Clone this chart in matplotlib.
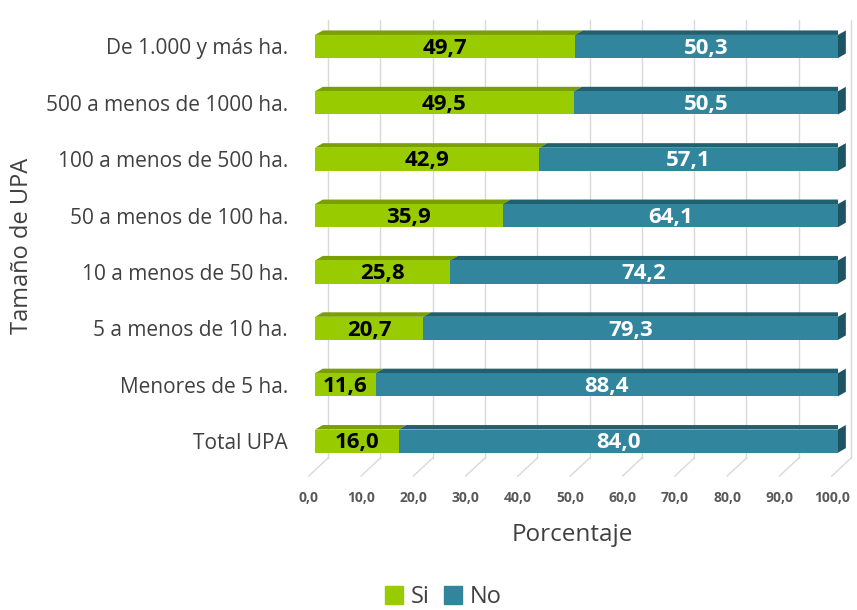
import numpy as np
import matplotlib.pyplot as plt
from matplotlib.patches import Polygon, Patch

# Data
categories = ['Total UPA', 'Menores de 5 ha.', '5 a menos de 10 ha.', '10 a menos de 50 ha.',
              '50 a menos de 100 ha.', '100 a menos de 500 ha.', '500 a menos de 1000 ha.',
              'De 1.000 y más ha.']
si_values = [16.0, 11.6, 20.7, 25.8, 35.9, 42.9, 49.5, 49.7]
no_values = [84.0, 88.4, 79.3, 74.2, 64.1, 57.1, 50.5, 50.3]
x_ticks = [0, 10, 20, 30, 40, 50, 60, 70, 80, 90, 100]

plt.rcParams['font.family'] = ['Open Sans', 'DejaVu Sans']

green, green_top = '#99CC00', '#7A9F00'
blue, blue_top, blue_side = '#31859C', '#22606F', '#1D5463'
grid_c = '#D9D9D9'
text_c = '#404040'

# 3D offsets (data units)
dx, dy = 1.5, 0.08
wall_dx = 2.5
floor_dx = -1.2
bar_h = 0.41
x_min = -1.5
y = np.arange(len(categories))

fig = plt.figure(figsize=(8.57, 6.10), dpi=100)
px_per_unit = 523 / 100
left_px = 315 + x_min * px_per_unit
ax = fig.add_axes([left_px / 857, 130 / 610, (838 - left_px) / 857, 460 / 610])
for s in ax.spines.values():
    s.set_visible(False)

# back wall grid lines + floor diagonals
for v in x_ticks:
    ax.plot([v + wall_dx, v + wall_dx], [-0.3, 7.47], color=grid_c, lw=1, zorder=0, clip_on=False)
    ax.plot([v + wall_dx, v + floor_dx], [-0.3, -0.62], color=grid_c, lw=1, zorder=0, clip_on=False)

# bars
ax.barh(y, si_values, height=bar_h, color=green, zorder=3)
ax.barh(y, no_values, left=si_values, height=bar_h, color=blue, zorder=3)

for yi, s, n in zip(y, si_values, no_values):
    top = yi + bar_h / 2
    bot = yi - bar_h / 2
    ax.add_patch(Polygon([(0, top), (s, top), (s + dx, top + dy), (dx, top + dy)],
                         closed=True, color=green_top, zorder=2, lw=0))
    ax.add_patch(Polygon([(s, top), (s + n, top), (s + n + dx, top + dy), (s + dx, top + dy)],
                         closed=True, color=blue_top, zorder=2, lw=0))
    ax.add_patch(Polygon([(s + n, bot), (s + n, top), (s + n + dx, top + dy), (s + n + dx, bot + dy)],
                         closed=True, color=blue_side, zorder=2, lw=0, clip_on=False))
    ax.text(s / 2, yi - 0.03, f'{s:.1f}'.replace('.', ','), ha='center', va='center',
            fontsize=16, fontweight='bold', color='black', zorder=5)
    ax.text(s + n / 2, yi - 0.03, f'{n:.1f}'.replace('.', ','), ha='center', va='center',
            fontsize=16, fontweight='bold', color='white', zorder=5)

# axes ticks
ax.set_yticks(y)
ax.set_yticklabels(categories, fontsize=15, color=text_c)
ax.tick_params(axis='y', length=0, pad=(left_px - 288) * 0.72)
ax.set_xticks([v + floor_dx for v in x_ticks])
ax.set_xticklabels([f'{v:.1f}'.replace('.', ',') for v in x_ticks], fontsize=10,
                   fontweight='bold', color='#595959')
ax.tick_params(axis='x', length=0, pad=8)
ax.set_xlim(x_min, 100)
ax.set_ylim(-0.69, 7.47)

ax.set_xlabel('Porcentaje', fontsize=17.5, color=text_c)
ax.xaxis.set_label_coords((572 - left_px) / (838 - left_px), -0.093)
fig.text(22 / 857, 1 - 246 / 610, 'Tamaño de UPA', rotation=90, ha='center', va='center',
         fontsize=17, color=text_c)

handles = [Patch(color=green, label='Si'), Patch(color=blue, label='No')]
fig.legend(handles=handles, loc='center', bbox_to_anchor=(443 / 857, 1 - 597 / 610), ncol=2,
           frameon=False, fontsize=17, handlelength=0.8, handleheight=0.8, handletextpad=0.3,
           columnspacing=0.6, labelcolor=text_c)

fig.savefig('out.png', dpi=100)
